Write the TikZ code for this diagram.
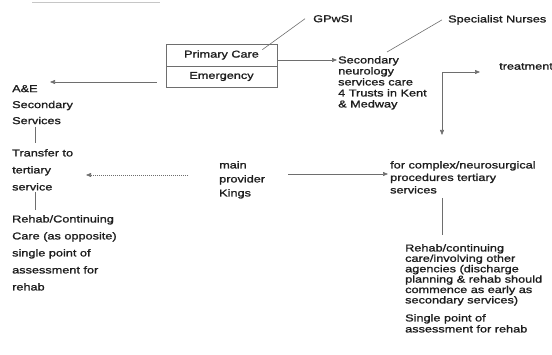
\documentclass[tikz,border=0pt]{standalone}
\usepackage{fontspec}
\setmainfont[FakeStretch=1.27,FakeBold=1.3]{Liberation Sans}
\usetikzlibrary{arrows.meta}
\definecolor{ink}{HTML}{1E1E1E}
\definecolor{ln}{HTML}{6E6E6E}
\tikzset{
  txt/.style={anchor=north west, inner sep=0pt, align=left, text=ink},
  boxpart/.style={draw=ln, line width=0.6pt, minimum width=111pt, inner sep=0pt, text=ink, font=\fontsize{10}{12}\selectfont},
  ln/.style={draw=ln, line width=0.6pt},
  arr/.style={ln, -{Triangle[length=5pt,width=4pt]}},
  darr/.style={ln, {Triangle[length=5pt,width=4pt]}-{Triangle[length=5pt,width=4pt]}},
  dotarr/.style={arr, dash pattern=on 1pt off 1pt},
}
\begin{document}
\begin{tikzpicture}[x=1pt,y=-1pt]
\useasboundingbox (0,0) rectangle (552,355);
% faint cut-off title underline
\draw[gray!45, line width=0.8pt] (32,2) -- (160,2);

% box
\node[boxpart, minimum height=22pt] (pc) at (221.5,55) {Primary Care};
\node[boxpart, minimum height=21pt] (em) at (221.5,76.5) {Emergency};

% texts
\node[txt, font=\fontsize{10}{12}\selectfont] (gp) at (313,15) {GPwSI};
\node[txt, font=\fontsize{10}{12}\selectfont] (sn) at (448,15) {Specialist Nurses};
\node[txt, font=\fontsize{10}{11}\selectfont] (sec) at (338,56) {Secondary\\neurology\\services care\\4 Trusts in Kent\\\& Medway};
\node[txt, font=\fontsize{10}{12}\selectfont] (tre) at (499,63) {treatment};
\node[txt, font=\fontsize{10}{16}\selectfont] (ae) at (12,85) {A\&E\\Secondary\\Services};
\node[txt, font=\fontsize{10}{17}\selectfont] (tr) at (12,149) {Transfer to\\tertiary\\service};
\node[txt, font=\fontsize{10}{17}\selectfont] (rc) at (12,215) {Rehab/Continuing\\Care (as opposite)\\single point of\\assessment for\\rehab};
\node[txt, font=\fontsize{10}{14}\selectfont] (mp) at (219,161) {main\\provider\\Kings};
\node[txt, font=\fontsize{10}{12.5}\selectfont] (cx) at (390,161) {for complex/neurosurgical\\procedures tertiary\\services};
\node[txt, font=\fontsize{10}{10.4}\selectfont] (rh) at (405,244) {Rehab/continuing\\care/involving other\\agencies (discharge\\planning \& rehab should\\commence as early as\\secondary services)};
\node[txt, font=\fontsize{10}{11}\selectfont] (sp) at (405,314) {Single point of\\assessment for rehab};

% connectors
\draw[ln] ([xshift=-15pt,yshift=-6pt]pc.north east) -- ([xshift=-8pt]gp.west);
\draw[ln] ([xshift=49pt,yshift=4pt]sec.north west) -- ([xshift=-6pt]sn.west);
\coordinate (secin) at ([yshift=-4pt]sec.north west);
\draw[arr] (pc.east |- secin) -- ([xshift=-1pt]secin);
\draw[arr] ([xshift=-9pt,yshift=-5.5pt]em.west) -- ([xshift=38pt,yshift=3pt]ae.north west);
\draw[ln] ([xshift=23pt,yshift=-42pt]ae.north west) -- ([xshift=23pt,yshift=6pt]tr.north west);
\draw[ln] ([xshift=23pt,yshift=-43pt]tr.north west) -- ([xshift=23pt,yshift=5pt]rc.north west);
\draw[dotarr] ([xshift=-31pt,yshift=-14pt]mp.north west) -- ([xshift=74pt,yshift=-26pt]tr.north west);
\draw[arr] ([xshift=69pt,yshift=-13pt]mp.north west) -- ([xshift=-2pt,yshift=-13pt]cx.north west);
\draw[darr] ([xshift=52pt,yshift=26pt]cx.north west) |- ([xshift=-19pt,yshift=-9pt]tre.north west);
\draw[ln] ([xshift=52pt,yshift=-37pt]cx.north west) -- ([xshift=37pt,yshift=9pt]rh.north west);
\end{tikzpicture}
\end{document}
